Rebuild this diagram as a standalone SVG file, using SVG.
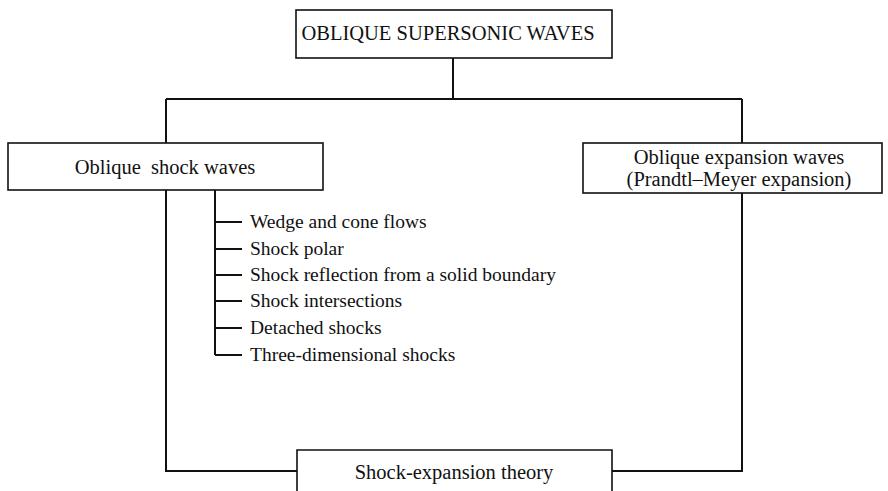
<svg xmlns="http://www.w3.org/2000/svg" width="888" height="491" viewBox="0 0 888 491">
<style>
.box{fill:#fff;stroke:#111;stroke-width:1.6}
.ln{fill:none;stroke:#111;stroke-width:2}
text{font-family:"Liberation Serif","Times New Roman",serif;font-size:19.5px;fill:#111}
.c{text-anchor:middle}
.b{font-size:20.5px}
</style>
<rect width="888" height="491" fill="#fff"/>
<g id="connectors">
<path class="ln" d="M453,58 V99 M166,99 H742 M166,99 V143 M742,99 V143"/>
<path class="ln" d="M166,190 V471 H297 M742,193 V471 H612"/>
<path class="ln" d="M215,190 V355 M215,222 H242 M215,249 H242 M215,275 H242 M215,301 H242 M215,328 H242 M215,355 H242"/>
</g>
<g id="top">
<rect class="box" x="296" y="10" width="316" height="48"/>
<text class="c b" x="448" y="40">OBLIQUE SUPERSONIC WAVES</text>
</g>
<g id="shock">
<rect class="box" x="8" y="143" width="315" height="47"/>
<text class="c b" x="165" y="174" xml:space="preserve">Oblique  shock waves</text>
</g>
<g id="expansion">
<rect class="box" x="583" y="143" width="299" height="50"/>
<text class="c b" x="739" y="164">Oblique expansion waves</text>
<text class="c b" x="739" y="186">(Prandtl–Meyer expansion)</text>
</g>
<g id="list">
<text x="250" y="228">Wedge and cone flows</text>
<text x="250" y="255">Shock polar</text>
<text x="250" y="281">Shock reflection from a solid boundary</text>
<text x="250" y="307">Shock intersections</text>
<text x="250" y="334">Detached shocks</text>
<text x="250" y="361">Three-dimensional shocks</text>
</g>
<g id="theory">
<path class="box" d="M297,492 V450 H612 V492"/>
<text class="c b" x="454" y="479">Shock-expansion theory</text>
</g>
</svg>
